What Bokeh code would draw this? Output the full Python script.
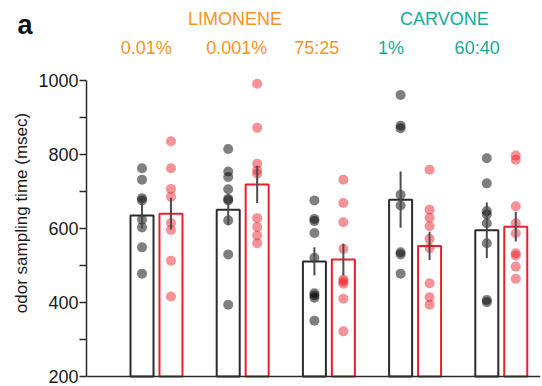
from bokeh.plotting import figure
from bokeh.models import Range1d, FixedTicker, Span, ColumnDataSource
from bokeh.layouts import column
from bokeh.core.properties import value
from bokeh.embed import file_html
from bokeh.resources import INLINE

# ---- data ----
odors = ["0.01%", "0.001%", "75:25", "1%", "60:40"]
odor_label_x = [-0.12, 0.93, 1.86, 2.72, 3.72]
odor_colors = ["#f7941d", "#f7941d", "#f7941d", "#17a99b", "#17a99b"]
group_titles = ["LIMONENE", "CARVONE"]
group_title_x = [0.91, 3.34]
group_title_colors = ["#f7941d", "#17a99b"]

black_means = [635, 651, 511, 678, 595]
black_sem = [36, 42, 38, 76, 75]
red_means = [640, 719, 516, 553, 605]
red_sem = [43, 50, 43, 38, 40]

black_points = [
    [763, 732, 682, 676, 624, 603, 549, 478],
    [815, 754, 739, 706, 680, 676, 622, 530, 394],
    [676, 626, 620, 588, 521, 425, 419, 413, 351],
    [961, 878, 871, 691, 662, 536, 530, 478],
    [790, 722, 647, 638, 614, 560, 407, 401],
]
red_points = [
    [836, 763, 707, 686, 615, 596, 513, 416],
    [991, 872, 775, 757, 748, 628, 604, 581, 560],
    [732, 669, 617, 545, 462, 457, 451, 410, 322],
    [759, 651, 629, 606, 572, 547, 452, 414, 394],
    [797, 786, 660, 614, 587, 533, 527, 497, 464],
]

y_ticks = [200, 400, 600, 800, 1000]
y_minor = [300, 500, 700, 900]
y_label = "odor sampling time (msec)"
panel_letter = "a"

FONT = "Liberation Sans"
OFF = 0.168
BW = 0.267
BLACK = "#2b2b2b"
RED = "#e8202a"
TXT = "#1a1a1a"

# ---------------- header (panel letter + compound names) ----------------
hdr = figure(width=542, height=39, output_backend="svg", toolbar_location=None,
             x_range=Range1d(-1.810, 4.478), y_range=Range1d(0, 39),
             x_axis_type=None, y_axis_type=None,
             min_border_left=0, min_border_right=0, min_border_top=0,
             min_border_bottom=0, frame_align=False)
hdr.outline_line_color = None
hdr.grid.grid_line_color = None

hsrc = ColumnDataSource(dict(x=group_title_x, y=[20.5] * len(group_titles),
                             t=group_titles, c=group_title_colors))
hdr.text(x="x", y="y", text="t", text_color="c", source=hsrc,
         text_font=value(FONT), text_font_size="18px",
         text_align="center", text_baseline="middle")
hdr.text(x=[-1.613], y=[14.5], text=[panel_letter], text_font=value(FONT),
         text_font_style="bold", text_font_size="27px", text_color="#111111",
         text_align="left", text_baseline="middle")

# ---------------- main plot ----------------
p = figure(width=542, height=347, output_backend="svg", toolbar_location=None,
           x_range=Range1d(-0.812, 4.455), y_range=Range1d(172.97, 1110.8),
           min_border_left=86, min_border_right=2, min_border_top=0,
           min_border_bottom=0, frame_align=False)
p.outline_line_color = None
p.grid.grid_line_color = None
p.xaxis.visible = False

ya = p.yaxis[0]
ya.bounds = (200, 1000)
ya.ticker = FixedTicker(ticks=y_ticks, minor_ticks=y_minor)
ya.major_tick_in = 0
ya.major_tick_out = 7
ya.minor_tick_in = 0
ya.minor_tick_out = 7
ya.axis_line_color = BLACK
ya.major_tick_line_color = BLACK
ya.minor_tick_line_color = BLACK
ya.axis_line_width = 1.5
ya.major_tick_line_width = 1.5
ya.minor_tick_line_width = 1.5
ya.major_label_text_font = FONT
ya.major_label_text_font_size = "18px"
ya.major_label_text_color = TXT
ya.major_label_standoff = 1
ya.axis_label = y_label
ya.axis_label_text_font = FONT
ya.axis_label_text_font_size = "17px"
ya.axis_label_text_font_style = "normal"
ya.axis_label_text_color = TXT
ya.axis_label_standoff = 4

# baseline of the bars (bottom axis line)
p.add_layout(Span(location=200, dimension="width", line_color=BLACK, line_width=1.5))

# dots
for i in range(len(odors)):
    bx = [i - OFF] * len(black_points[i])
    rx = [i + OFF] * len(red_points[i])
    p.scatter(bx, black_points[i], size=10, fill_color="black", fill_alpha=0.5,
              line_color=None)
    p.scatter(rx, red_points[i], size=10, fill_color="#ec2530", fill_alpha=0.5,
              line_color=None)

xs_b = [i - OFF for i in range(len(odors))]
xs_r = [i + OFF for i in range(len(odors))]

# bars
p.vbar(x=xs_b, top=black_means, bottom=200, width=BW, fill_alpha=0,
       line_color=BLACK, line_width=2)
p.vbar(x=xs_r, top=red_means, bottom=200, width=BW, fill_alpha=0,
       line_color=RED, line_width=2)

# error bars (mean +/- SEM)
p.segment(x0=xs_b, x1=xs_b,
          y0=[m - s for m, s in zip(black_means, black_sem)],
          y1=[m + s for m, s in zip(black_means, black_sem)],
          line_color="#4d4d4d", line_width=2)
p.segment(x0=xs_r, x1=xs_r,
          y0=[m - s for m, s in zip(red_means, red_sem)],
          y1=[m + s for m, s in zip(red_means, red_sem)],
          line_color="#4d4d4d", line_width=2)

# odor labels
osrc = ColumnDataSource(dict(x=odor_label_x, y=[1089] * len(odors), t=odors, c=odor_colors))
p.text(x="x", y="y", text="t", text_color="c", source=osrc,
       text_font=value(FONT), text_font_size="18px",
       text_align="center", text_baseline="middle")

layout = column(hdr, p, spacing=0)
open("out.html", "w").write(file_html(layout, INLINE))
